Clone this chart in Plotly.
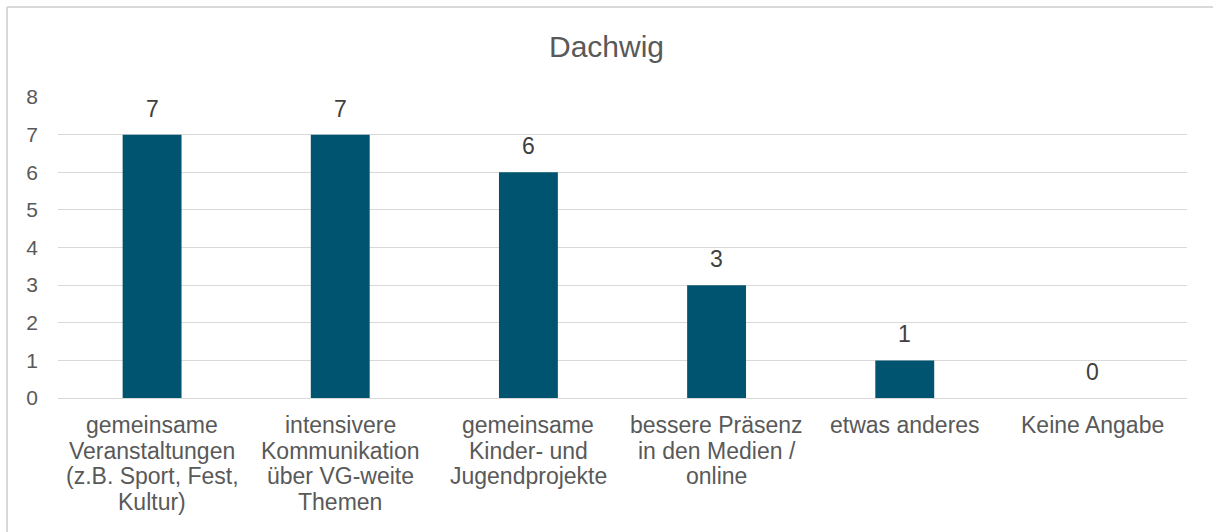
import plotly.graph_objects as go

categories = [
    "gemeinsame<br>Veranstaltungen<br>(z.B. Sport, Fest,<br>Kultur)",
    "intensivere<br>Kommunikation<br>über VG-weite<br>Themen",
    "gemeinsame<br>Kinder- und<br>Jugendprojekte",
    "bessere Präsenz<br>in den Medien /<br>online",
    "etwas anderes",
    "Keine Angabe",
]
values = [7, 7, 6, 3, 1, 0]
title = "Dachwig"

W, H = 1213, 532
L, R, T, B = 58, 26, 97, 134
pw, ph = W - L - R, H - T - B

fig = go.Figure(go.Bar(
    x=categories, y=values,
    marker=dict(color="#00546F", line=dict(width=0)),
    width=0.313,
    cliponaxis=False,
))

# value labels
for c, v in zip(categories, values):
    fig.add_annotation(x=c, y=v, text=str(v), showarrow=False, yanchor="bottom",
                       yshift=11, font=dict(size=23, color="#404040"))

# category labels, one annotation per line for tight line spacing
LINE = 25.5
for c in categories:
    for i, line in enumerate(c.split("<br>")):
        fig.add_annotation(x=c, xref="x", y=0, yref="paper", text=line, showarrow=False,
                           yanchor="top", yshift=-(12 + LINE * i),
                           font=dict(size=23, color="#595959"))

fig.update_layout(
    width=W, height=H,
    margin=dict(l=L, r=R, t=T, b=B),
    paper_bgcolor="white", plot_bgcolor="white",
    font=dict(family="Liberation Sans, Arial, sans-serif", size=21, color="#595959"),
    title=dict(text=title, x=0.5, xanchor="center", y=1 - 46 / H, yanchor="middle",
               font=dict(size=30, color="#595959")),
    showlegend=False,
)
fig.update_yaxes(range=[0, 8], dtick=1, showgrid=True, gridcolor="#D9D9D9", gridwidth=1,
                 zeroline=False, showline=False, ticks="", tickfont=dict(size=21, color="#595959"),
                 ticklabelstandoff=19, automargin=False)
fig.update_xaxes(showline=True, linecolor="#D9D9D9", linewidth=1, ticks="",
                 showticklabels=False, automargin=False)

# outer chart border (left and top visible)
bx0 = (7 - L) / pw
by1 = 1 + (T - 7) / ph
fig.add_shape(type="line", xref="paper", yref="paper", x0=bx0, x1=(W - L) / pw, y0=by1, y1=by1,
              line=dict(color="#D9D9D9", width=2))
fig.add_shape(type="line", xref="paper", yref="paper", x0=bx0, x1=bx0, y0=by1, y1=-(B) / ph,
              line=dict(color="#D9D9D9", width=2))
fig.write_html("out.html", config={"displayModeBar": False},
               post_script="document.body.style.margin='0';")
